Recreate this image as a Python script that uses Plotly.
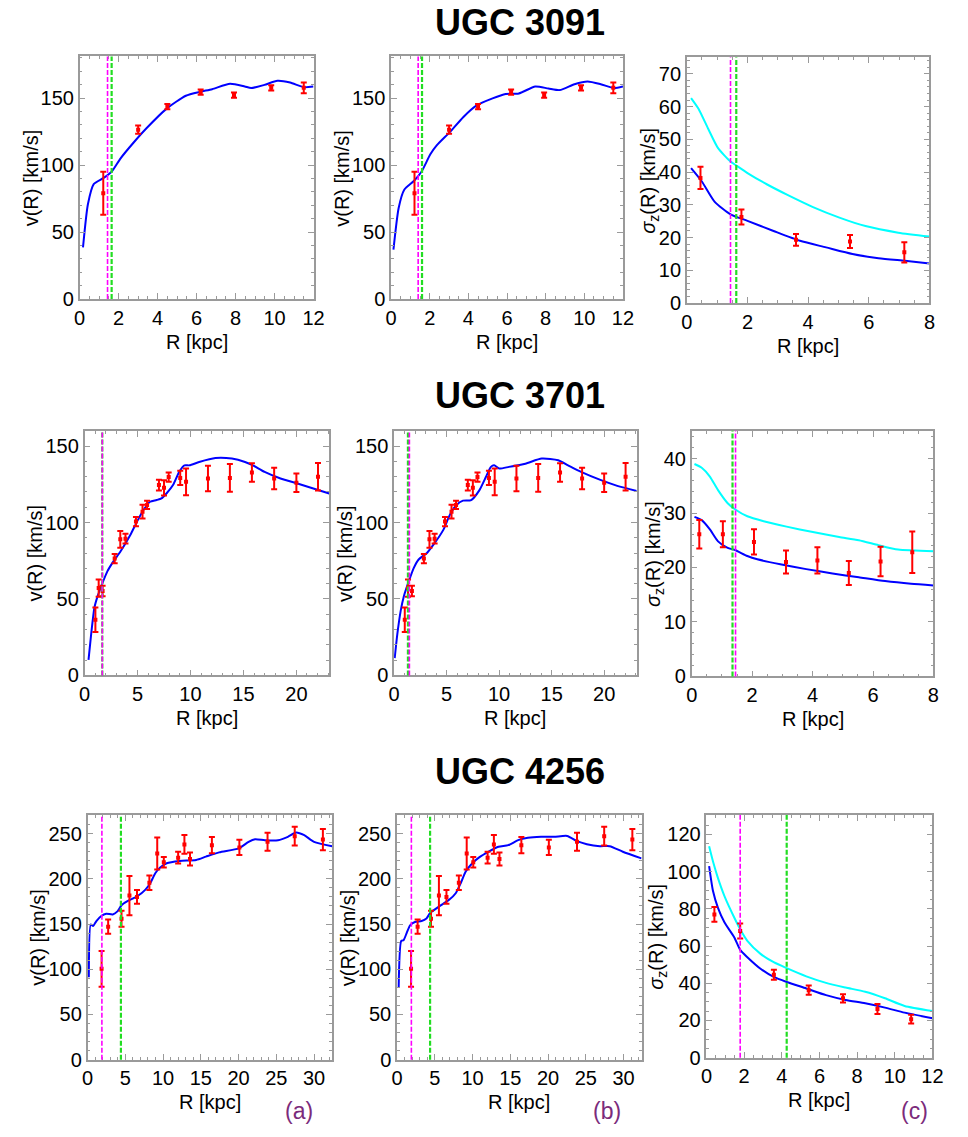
import plotly.graph_objects as go

# ---------------- DATA ----------------
# UGC 3091 rotation curve (observed)
R_obs_3091 = [1.21, 3.0, 4.5, 6.21, 7.92, 9.83, 11.5]
v_obs_3091 = [79, 126.4, 143.6, 154.4, 152.2, 157.6, 157.6]
v_err_3091 = [16, 3, 2, 2, 2, 2, 4]
# model (a)
R_fit_a_3091 = [0.17, 0.42, 0.72, 1.21, 1.64, 2.1, 2.77, 3.44, 4.45, 5.45, 6.21, 6.8, 7.72, 8.47, 8.8, 9.48, 10.15, 10.8, 11.5, 12.0]
v_fit_a_3091 = [38.6, 70.6, 85.8, 90.2, 95.0, 105.0, 116.8, 127.6, 141.9, 151.7, 154.7, 156.6, 160.6, 158.6, 157.4, 159.8, 162.8, 161.5, 158.1, 158.6]
# model (b)
R_fit_b_3091 = [0.12, 0.39, 0.68, 1.19, 1.58, 2.03, 2.37, 3.05, 3.73, 4.41, 5.25, 5.93, 6.61, 7.46, 8.14, 8.73, 9.49, 10.17, 10.85, 11.53, 12.0]
v_fit_b_3091 = [36.9, 68.0, 81.6, 88.3, 95.2, 108.0, 114.8, 124.7, 135.7, 144.3, 149.7, 153.0, 153.4, 158.6, 157.1, 155.9, 160.3, 162.3, 160.3, 157.4, 158.6]
# dispersion (c)
R_sig_3091 = [0.45, 1.8, 3.6, 5.38, 7.17]
sig_obs_3091 = [38.2, 26.3, 19.3, 18.8, 15.5]
sig_err_3091 = [3.4, 2.3, 1.8, 2.0, 3.1]
R_sigfit_hi_3091 = [0.14, 0.38, 0.7, 1.03, 1.44, 1.63, 2.0, 2.65, 3.3, 4.16, 5.03, 5.89, 6.97, 8.0]
sig_fit_hi_3091 = [62.6, 59.4, 53.3, 47.3, 43.2, 42.0, 39.7, 36.2, 33.1, 29.3, 26.1, 23.5, 21.5, 20.3]
R_sigfit_lo_3091 = [0.14, 0.49, 0.92, 1.44, 2.0, 2.86, 3.73, 4.59, 5.46, 6.32, 7.19, 8.0]
sig_fit_lo_3091 = [41.2, 37.2, 30.9, 27.1, 25.1, 22.0, 19.0, 17.0, 15.0, 13.7, 12.9, 12.1]
# vertical markers [magenta, green] for panels a, b, c
vlines_3091 = [[1.43, 1.64], [1.40, 1.60], [1.44, 1.63]]

# UGC 3701
R_obs_3701 = [1.02, 1.33, 1.7, 2.84, 3.37, 3.86, 4.85, 5.47, 5.9, 7.02, 7.5, 7.94, 9.03, 9.58, 11.65, 13.72, 15.8, 17.9, 20.0, 22.04]
v_obs_3701 = [36.4, 57.1, 55.2, 76.4, 89.0, 89.4, 100.6, 107.1, 111.5, 124.5, 122.7, 129.7, 129.2, 126.6, 128.8, 129.2, 132.7, 128.8, 126.0, 129.9]
v_err_3701 = [8, 5.6, 3.4, 3, 5.5, 3.2, 3, 4.5, 2.7, 3.5, 5, 3, 4.6, 8.8, 8.3, 9, 6, 7, 6, 9]
R_fit_a_3701 = [0.37, 0.62, 0.93, 1.24, 1.7, 2.16, 2.63, 3.4, 4.33, 4.95, 5.56, 6.18, 6.8, 7.26, 7.73, 8.35, 8.96, 9.43, 9.9, 10.82, 12.36, 13.91, 15.15, 15.9, 17.0, 18.5, 20.1, 21.6, 23.1]
v_fit_a_3701 = [10.2, 27.0, 44.4, 52.0, 60.6, 68.2, 73.6, 81.2, 92.0, 100.6, 108.2, 113.6, 114.7, 115.8, 119.0, 124.5, 133.5, 137.4, 137.4, 139.6, 142.2, 141.8, 139.6, 137.4, 133.1, 128.8, 125.5, 122.3, 119.0]
R_fit_b_3701 = [0.06, 0.31, 0.63, 0.94, 1.41, 1.88, 2.34, 3.13, 3.75, 4.69, 5.31, 5.94, 6.56, 7.34, 8.13, 8.75, 9.22, 9.53, 10.0, 10.94, 12.5, 14.06, 15.63, 16.56, 17.8, 19.7, 21.25, 23.1]
v_fit_b_3701 = [11.3, 27.0, 42.2, 52.0, 61.7, 70.3, 75.8, 80.1, 85.5, 95.2, 105.0, 111.5, 114.3, 114.7, 121.2, 129.9, 136.4, 137.4, 135.3, 136.4, 138.5, 141.8, 140.7, 137.4, 133.1, 127.7, 124.0, 120.6]
R_sig_3701 = [0.25, 1.03, 2.06, 3.12, 4.16, 5.2, 6.25, 7.3]
sig_obs_3701 = [26.1, 26.1, 24.7, 21.0, 21.3, 19.0, 21.1, 22.8]
sig_err_3701 = [2.6, 2.4, 2.3, 2.1, 2.4, 2.2, 2.7, 3.8]
R_sigfit_hi_3701 = [0.09, 0.33, 0.6, 0.87, 1.19, 1.43, 1.84, 2.38, 3.14, 4.01, 4.88, 5.53, 6.18, 6.83, 8.0]
sig_fit_hi_3701 = [39.0, 38.3, 36.7, 34.2, 31.8, 30.7, 29.4, 28.5, 27.5, 26.5, 25.6, 25.0, 24.1, 23.3, 23.0]
R_sigfit_lo_3701 = [0.09, 0.33, 0.6, 0.87, 1.19, 1.43, 1.84, 2.17, 2.93, 3.79, 4.66, 5.53, 6.4, 7.26, 8.0]
sig_fit_lo_3701 = [29.3, 28.7, 27.0, 24.8, 23.6, 23.2, 22.1, 21.5, 20.6, 19.7, 18.9, 18.2, 17.5, 17.0, 16.7]
vlines_3701 = [[1.67, 1.67], [1.46, 1.32], [1.45, 1.35]]

# UGC 4256
R_obs_4256 = [1.86, 2.73, 4.5, 5.55, 6.55, 8.19, 9.23, 10.1, 12.0, 12.83, 13.57, 16.47, 20.11, 23.84, 27.44, 31.17]
v_obs_4256 = [100.4, 147.1, 155.8, 181.4, 180.0, 195.6, 228.1, 218.2, 223.4, 238.0, 221.9, 237.2, 234.7, 240.9, 247.1, 243.4]
v_err_4256 = [19.7, 8, 8.8, 21.7, 7.5, 8, 17.7, 5.8, 6.5, 10.4, 7.3, 9, 8.4, 10, 10.4, 11.7]
R_fit_a_4256 = [0.17, 0.43, 0.74, 1.17, 1.82, 2.47, 3.34, 3.99, 4.5, 5.29, 6.59, 7.67, 8.32, 8.97, 9.62, 10.49, 12.22, 14.39, 15.69, 17.43, 20.03, 21.33, 22.19, 23.49, 25.23, 26.53, 27.61, 28.7, 30.0, 32.4]
v_fit_a_4256 = [91.2, 149.6, 147.8, 153.3, 158.8, 161.3, 160.6, 164.2, 170.8, 175.2, 180.7, 188.0, 195.3, 206.2, 212.4, 217.2, 219.7, 220.8, 224.5, 229.2, 233.6, 240.9, 243.8, 242.7, 242.7, 246.4, 251.1, 248.2, 240.9, 236.1]
R_fit_b_4256 = [0.22, 0.56, 0.87, 1.3, 1.73, 2.38, 3.25, 3.9, 4.42, 5.64, 6.94, 7.8, 8.45, 9.1, 9.97, 10.84, 12.14, 13.44, 14.74, 16.04, 17.34, 19.07, 20.81, 22.54, 23.84, 25.14, 26.87, 28.17, 29.91, 32.38]
v_fit_b_4256 = [79.6, 131.4, 132.1, 140.5, 148.5, 152.2, 153.3, 156.2, 162.4, 169.7, 177.0, 184.3, 195.3, 208.0, 217.2, 223.4, 230.0, 235.4, 237.2, 242.7, 245.3, 246.4, 246.4, 247.4, 241.6, 238.3, 236.1, 236.1, 229.9, 222.6]
R_sig_4256 = [0.42, 1.79, 3.58, 5.43, 7.25, 9.08, 10.87]
sig_obs_4256 = [77.0, 68.1, 44.6, 36.3, 31.9, 26.2, 20.7]
sig_err_4256 = [4.0, 4.0, 2.7, 2.5, 2.2, 2.7, 2.4]
R_sigfit_hi_4256 = [0.14, 0.35, 0.61, 0.96, 1.48, 1.79, 2.17, 2.87, 3.57, 4.26, 5.3, 6.35, 7.39, 8.43, 9.48, 10.52, 12.0]
sig_fit_hi_4256 = [113.6, 105.3, 96.5, 86.7, 75.2, 69.0, 62.8, 55.8, 51.3, 48.1, 43.7, 40.2, 37.7, 35.4, 31.9, 27.8, 25.1]
R_sigfit_lo_4256 = [0.14, 0.35, 0.61, 0.96, 1.48, 1.79, 2.17, 2.87, 3.57, 4.26, 5.3, 6.35, 7.39, 8.43, 9.48, 10.52, 12.0]
sig_fit_lo_4256 = [103.0, 89.4, 80.5, 72.6, 64.6, 57.9, 54.0, 47.8, 43.4, 40.7, 37.2, 33.6, 31.0, 29.2, 26.9, 24.2, 21.2]
vlines_4256 = [[1.9, 4.42], [1.9, 4.38], [1.79, 4.26]]

galaxy_names = ["UGC 3091", "UGC 3701", "UGC 4256"]
panel_tags = ["(a)", "(b)", "(c)"]

# ---------------- LAYOUT HELPERS ----------------
W, H = 968, 1137
FONT = "Liberation Sans, Arial, sans-serif"
FRAME = "#9a9a9a"
FS = 20


def fx(p):
    return p / W


def fy(p):
    return 1 - p / H


# frame pixel boxes [x0, x1, y0(top), y1(bottom)]
boxes = [
    [[75, 313, 57, 302], [392, 628, 57, 302], [693, 940, 58, 306]],
    [[80, 329, 435, 682], [395, 642, 435, 682], [698, 944, 435, 683]],
    [[83, 332, 823, 1070], [398, 647, 823, 1070], [713, 943, 823, 1068]],
]
xr = [[12, 12, 8], [23.1, 23.1, 8], [32.4, 32.4, 12]]
yr = [[181, 181, 75], [160, 160, 45.1], [270.5, 270.5, 130.4]]
xt = [[2, 2, 2], [5, 5, 2], [5, 5, 2]]
xm = [[0.5, 0.5, 0.5], [1, 1, 0.5], [1, 1, 0.5]]
yt = [[50, 50, 10], [50, 50, 10], [50, 50, 20]]
ym = [[10, 10, 2], [10, 10, 2], [10, 10, 5]]
ytitle_x = [[25, 342, 655], [30, 345, 660], [33, 348, 663]]
row_title_y = [23, 399, 779]
RLABEL_GAP = 43

rows = [
    dict(Ro=R_obs_3091, vo=v_obs_3091, ve=v_err_3091,
         Ra=R_fit_a_3091, va=v_fit_a_3091, Rb=R_fit_b_3091, vb=v_fit_b_3091,
         Rs=R_sig_3091, so=sig_obs_3091, se=sig_err_3091,
         Rh=R_sigfit_hi_3091, sh=sig_fit_hi_3091, Rl=R_sigfit_lo_3091, sl=sig_fit_lo_3091,
         vl=vlines_3091),
    dict(Ro=R_obs_3701, vo=v_obs_3701, ve=v_err_3701,
         Ra=R_fit_a_3701, va=v_fit_a_3701, Rb=R_fit_b_3701, vb=v_fit_b_3701,
         Rs=R_sig_3701, so=sig_obs_3701, se=sig_err_3701,
         Rh=R_sigfit_hi_3701, sh=sig_fit_hi_3701, Rl=R_sigfit_lo_3701, sl=sig_fit_lo_3701,
         vl=vlines_3701),
    dict(Ro=R_obs_4256, vo=v_obs_4256, ve=v_err_4256,
         Ra=R_fit_a_4256, va=v_fit_a_4256, Rb=R_fit_b_4256, vb=v_fit_b_4256,
         Rs=R_sig_4256, so=sig_obs_4256, se=sig_err_4256,
         Rh=R_sigfit_hi_4256, sh=sig_fit_hi_4256, Rl=R_sigfit_lo_4256, sl=sig_fit_lo_4256,
         vl=vlines_4256),
]

fig = go.Figure()
layout = dict(width=W, height=H, margin=dict(l=0, r=0, t=0, b=0),
              paper_bgcolor="white", plot_bgcolor="white", showlegend=False,
              font=dict(family=FONT, size=FS, color="black"))
annotations = []
shapes = []

LINE_BLUE = dict(color="#0000ff", width=2, shape="spline", smoothing=0.6)
LINE_CYAN = dict(color="#00ffff", width=2, shape="spline", smoothing=0.6)

k = 0
for r, d in enumerate(rows):
    for c in range(3):
        k += 1
        xa = "x" if k == 1 else f"x{k}"
        ya = "y" if k == 1 else f"y{k}"
        x0, x1, y0, y1 = boxes[r][c]
        axis_common = dict(showgrid=False, zeroline=False, showline=True, linecolor=FRAME,
                           linewidth=1.5, mirror="allticks", ticks="inside", ticklen=6,
                           tickcolor=FRAME, tickwidth=1, tickfont=dict(size=FS, family=FONT),
                           fixedrange=True)
        layout["xaxis" if k == 1 else f"xaxis{k}"] = dict(
            domain=[fx(x0), fx(x1)], anchor=ya, range=[0, xr[r][c]],
            tick0=0, dtick=xt[r][c],
            minor=dict(dtick=xm[r][c], ticks="inside", ticklen=3, tickcolor=FRAME),
            **axis_common)
        layout["yaxis" if k == 1 else f"yaxis{k}"] = dict(
            domain=[fy(y1), fy(y0)], anchor=xa, range=[0, yr[r][c]],
            tick0=0, dtick=yt[r][c],
            minor=dict(dtick=ym[r][c], ticks="inside", ticklen=3, tickcolor=FRAME),
            **axis_common)

        if c < 2:
            Rf, vf = (d["Ra"], d["va"]) if c == 0 else (d["Rb"], d["vb"])
            fig.add_trace(go.Scatter(x=Rf, y=vf, mode="lines", line=LINE_BLUE,
                                     xaxis=xa, yaxis=ya, hoverinfo="skip"))
            fig.add_trace(go.Scatter(x=d["Ro"], y=d["vo"], mode="markers",
                                     marker=dict(color="red", size=4, symbol="square"),
                                     error_y=dict(type="data", array=d["ve"], color="red",
                                                  thickness=2, width=3),
                                     xaxis=xa, yaxis=ya))
            ytxt = "v(R) [km/s]"
        else:
            fig.add_trace(go.Scatter(x=d["Rh"], y=d["sh"], mode="lines", line=LINE_CYAN,
                                     xaxis=xa, yaxis=ya, hoverinfo="skip"))
            fig.add_trace(go.Scatter(x=d["Rl"], y=d["sl"], mode="lines", line=LINE_BLUE,
                                     xaxis=xa, yaxis=ya, hoverinfo="skip"))
            fig.add_trace(go.Scatter(x=d["Rs"], y=d["so"], mode="markers",
                                     marker=dict(color="red", size=4, symbol="square"),
                                     error_y=dict(type="data", array=d["se"], color="red",
                                                  thickness=2, width=3),
                                     xaxis=xa, yaxis=ya))
            ytxt = "<i>σ</i><sub>z</sub>(R) [km/s]"

        mag, grn = d["vl"][c]
        for xv, col, wd in ((grn, "#22dd22", 2.2), (mag, "#ff00ff", 1.6)):
            shapes.append(dict(type="line", xref=xa, yref=f"{ya} domain",
                               x0=xv, x1=xv, y0=0, y1=1,
                               line=dict(color=col, width=wd, dash="5px,2px")))

        annotations.append(dict(text=ytxt, textangle=-90, x=fx(ytitle_x[r][c]),
                                y=fy((y0 + y1) / 2), xref="paper", yref="paper",
                                xanchor="center", yanchor="middle", showarrow=False,
                                font=dict(size=FS, family=FONT, color="black")))
        annotations.append(dict(text="R [kpc]", x=fx((x0 + x1) / 2), y=fy(y1 + RLABEL_GAP),
                                xref="paper", yref="paper", xanchor="center",
                                yanchor="middle", showarrow=False,
                                font=dict(size=FS, family=FONT, color="black")))

    annotations.append(dict(text=f"<b>{galaxy_names[r]}</b>", x=fx(523), y=fy(row_title_y[r]),
                            xref="paper", yref="paper", xanchor="center", yanchor="middle",
                            showarrow=False, font=dict(size=36, family=FONT, color="black")))

for c, tag_x in enumerate([298, 612, 925]):
    annotations.append(dict(text=panel_tags[c], x=fx(tag_x), y=fy(1122), xref="paper",
                            yref="paper", xanchor="center", yanchor="middle", showarrow=False,
                            font=dict(size=23, family=FONT, color="#7b2b7b")))

layout["annotations"] = annotations
layout["shapes"] = shapes
fig.update_layout(**layout)
fig.write_html("out.html")
